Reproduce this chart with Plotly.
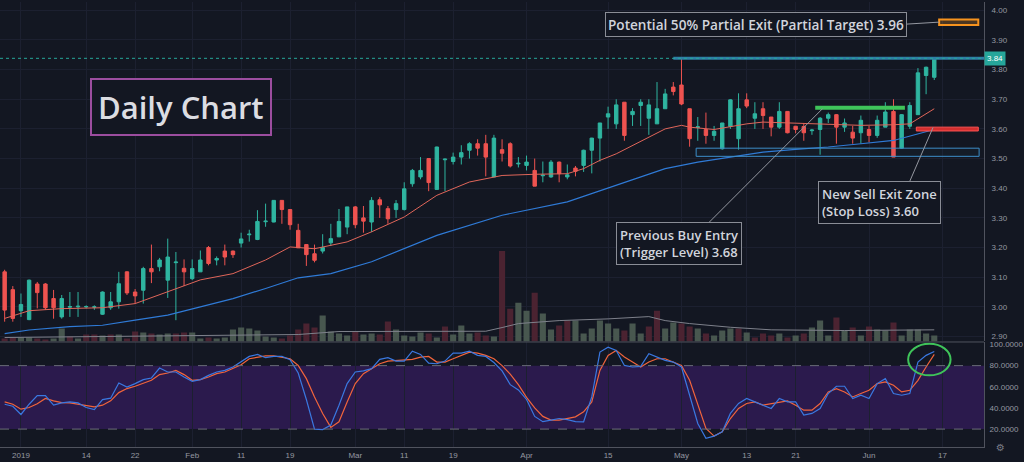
import numpy as np
import pandas as pd
import plotly.graph_objects as go

# ASX trading days on screen (Dec 28 2018 .. Jun 14 2019) plus the empty week on the right
holidays = ["2019-01-01", "2019-01-28", "2019-04-19", "2019-04-22", "2019-04-25", "2019-06-10"]
days = pd.bdate_range("2018-12-28", "2019-06-21")
days = days[~days.isin(pd.to_datetime(holidays))]

tick_dates = ["2019-01-02", "2019-01-14", "2019-01-22", "2019-02-01", "2019-02-11", "2019-02-19",
              "2019-03-01", "2019-03-11", "2019-03-19", "2019-04-01", "2019-04-15", "2019-05-01",
              "2019-05-13", "2019-05-21", "2019-06-03", "2019-06-17"]
tick_text = ["2019", "14", "22", "Feb", "11", "19", "Mar", "11", "19", "Apr", "15", "May",
             "13", "21", "Jun", "17"]

opens = [3.118, 3.058, 2.987, 2.957, 3.077, 3.077, 3.028, 2.966, 2.999, 3.000,
         3.000, 2.999, 2.975, 2.997, 3.017, 3.118, 3.050, 3.056, 3.129, 3.135,
         3.090, 3.149, 3.130, 3.095, 3.118, 3.200, 3.158, 3.188, 3.188, 3.215,
         3.243, 3.227, 3.287, 3.286, 3.359, 3.328, 3.258, 3.210, 3.179, 3.188,
         3.216, 3.236, 3.269, 3.337, 3.300, 3.286, 3.361, 3.331, 3.328, 3.328,
         3.415, 3.438, 3.500, 3.396, 3.496, 3.490, 3.505, 3.528, 3.550, 3.550,
         3.438, 3.530, 3.550, 3.482, 3.477, 3.460, 3.442, 3.438, 3.488, 3.438,
         3.468, 3.477, 3.528, 3.569, 3.640, 3.617, 3.690, 3.648, 3.679, 3.636,
         3.617, 3.668, 3.741, 3.748, 3.668, 3.605, 3.598, 3.578, 3.533, 3.608,
         3.567, 3.698, 3.636, 3.668, 3.640, 3.606, 3.659, 3.609, 3.608, 3.594,
         3.598, 3.636, 3.648, 3.606, 3.589, 3.587, 3.598, 3.578, 3.606, 3.659,
         3.535, 3.609, 3.648, 3.780, 3.774]
highs = [3.125, 3.070, 3.045, 3.092, 3.084, 3.080, 3.057, 3.040, 3.050, 3.050,
         3.005, 3.005, 3.052, 3.050, 3.118, 3.120, 3.060, 3.135, 3.210, 3.165,
         3.230, 3.185, 3.160, 3.160, 3.190, 3.205, 3.170, 3.210, 3.190, 3.250,
         3.260, 3.326, 3.348, 3.360, 3.360, 3.330, 3.280, 3.210, 3.210, 3.245,
         3.280, 3.330, 3.337, 3.340, 3.340, 3.370, 3.370, 3.340, 3.360, 3.420,
         3.465, 3.505, 3.500, 3.540, 3.500, 3.520, 3.545, 3.555, 3.565, 3.580,
         3.580, 3.565, 3.555, 3.505, 3.510, 3.500, 3.490, 3.495, 3.490, 3.480,
         3.475, 3.530, 3.570, 3.620, 3.675, 3.700, 3.690, 3.670, 3.700, 3.700,
         3.758, 3.735, 3.758, 3.840, 3.668, 3.640, 3.655, 3.610, 3.620, 3.700,
         3.720, 3.720, 3.690, 3.690, 3.640, 3.690, 3.660, 3.610, 3.620, 3.600,
         3.640, 3.655, 3.650, 3.635, 3.610, 3.645, 3.610, 3.645, 3.690, 3.700,
         3.650, 3.690, 3.805, 3.810, 3.840]
lows = [2.950, 2.950, 2.966, 2.955, 2.995, 2.990, 2.960, 2.960, 2.966, 2.966,
        2.995, 2.990, 2.973, 2.990, 2.994, 3.040, 3.011, 3.011, 3.080, 3.120,
        3.030, 2.955, 3.070, 3.090, 3.118, 3.140, 3.140, 3.140, 3.165, 3.200,
        3.220, 3.225, 3.270, 3.285, 3.280, 3.260, 3.199, 3.138, 3.150, 3.180,
        3.205, 3.236, 3.245, 3.265, 3.250, 3.252, 3.300, 3.280, 3.300, 3.325,
        3.405, 3.430, 3.390, 3.395, 3.390, 3.480, 3.480, 3.500, 3.510, 3.440,
        3.438, 3.490, 3.470, 3.470, 3.460, 3.407, 3.420, 3.435, 3.420, 3.430,
        3.440, 3.455, 3.450, 3.490, 3.600, 3.600, 3.560, 3.610, 3.610, 3.580,
        3.617, 3.668, 3.713, 3.680, 3.540, 3.560, 3.550, 3.560, 3.530, 3.600,
        3.530, 3.670, 3.600, 3.600, 3.575, 3.600, 3.585, 3.585, 3.560, 3.580,
        3.513, 3.620, 3.550, 3.590, 3.550, 3.550, 3.555, 3.570, 3.606, 3.505,
        3.533, 3.600, 3.648, 3.717, 3.765]
closes = [2.989, 2.961, 3.008, 3.090, 3.048, 2.997, 2.997, 3.028, 3.001, 3.002,
          3.001, 3.000, 3.050, 3.017, 3.078, 3.047, 3.037, 3.129, 3.118, 3.158,
          3.168, 3.151, 3.118, 3.129, 3.158, 3.146, 3.163, 3.168, 3.176, 3.229,
          3.245, 3.288, 3.289, 3.359, 3.328, 3.277, 3.199, 3.176, 3.157, 3.200,
          3.230, 3.288, 3.337, 3.277, 3.289, 3.359, 3.344, 3.297, 3.348, 3.398,
          3.460, 3.460, 3.419, 3.539, 3.498, 3.505, 3.520, 3.550, 3.535, 3.505,
          3.569, 3.518, 3.475, 3.484, 3.488, 3.407, 3.444, 3.488, 3.449, 3.445,
          3.457, 3.528, 3.569, 3.620, 3.651, 3.681, 3.578, 3.659, 3.690, 3.681,
          3.668, 3.718, 3.726, 3.684, 3.567, 3.607, 3.578, 3.592, 3.620, 3.698,
          3.668, 3.677, 3.651, 3.645, 3.606, 3.659, 3.587, 3.598, 3.587, 3.596,
          3.636, 3.648, 3.606, 3.620, 3.569, 3.629, 3.578, 3.629, 3.657, 3.505,
          3.648, 3.679, 3.789, 3.808, 3.840]
volume = [3, 4, 4, 4, 3, 2, 3, 13, 5, 3,
          7, 7, 6, 7, 7, 3, 10, 9, 8, 7,
          8, 8, 9, 9, 3, 4, 3, 4, 12, 14,
          13, 11, 5, 4, 3, 6, 12, 18, 14, 26,
          10, 8, 6, 10, 7, 8, 7, 20, 12, 6,
          5, 9, 8, 4, 15, 7, 16, 8, 9, 6,
          5, 91, 33, 39, 31, 49, 28, 12, 16, 21,
          21, 8, 13, 21, 18, 13, 11, 18, 8, 15,
          31, 13, 19, 18, 15, 13, 8, 6, 11, 13,
          13, 9, 4, 8, 6, 8, 4, 6, 8, 14,
          21, 6, 24, 11, 14, 6, 15, 12, 11, 19,
          6, 12, 12, 8, 6]

# moving averages (bar index, value)
ma_fast_idx = [0, 3, 7, 12, 16, 20, 24, 28, 32, 35, 38, 42, 45, 49, 53, 57, 61, 65, 69, 71,
               73, 75, 77, 79, 81, 83, 84, 87, 91, 93, 97, 101, 105, 109, 111, 112, 114]
ma_fast = [2.961, 2.987, 2.994, 2.997, 3.011, 3.051, 3.091, 3.112, 3.158, 3.202, 3.196, 3.219,
           3.253, 3.303, 3.376, 3.421, 3.443, 3.447, 3.449, 3.466, 3.494, 3.516, 3.544, 3.572,
           3.600, 3.612, 3.606, 3.598, 3.617, 3.623, 3.620, 3.617, 3.612, 3.614, 3.617, 3.634, 3.668]
ma_slow_idx = [0, 3, 8, 12, 16, 20, 24, 28, 32, 36, 40, 42, 45, 53, 61, 69, 75, 81, 85, 89,
               93, 97, 101, 105, 109, 114]
ma_slow = [2.910, 2.922, 2.933, 2.938, 2.955, 2.972, 3.000, 3.028, 3.062, 3.098, 3.112, 3.129,
           3.152, 3.241, 3.309, 3.354, 3.410, 3.466, 3.488, 3.505, 3.522, 3.531, 3.539, 3.550,
           3.561, 3.598]
vol_ma_idx = [0, 12, 24, 36, 41, 59, 61, 63, 68, 74, 79, 81, 84, 89, 94, 103, 114]
vol_ma = [4, 5, 6, 7, 10, 10.3, 14, 18, 21, 22.7, 25, 21, 18, 14.3, 11.7, 11, 11.7]

stoch_k = [43.5, 41.6, 33.8, 43.5, 51.7, 51.7, 42.6, 44.8, 45.7, 44.8,
           40.4, 38.5, 47.9, 49.2, 63.6, 59.8, 63.0, 66.8, 68.3, 77.7,
           74.0, 74.0, 69.3, 65.2, 66.8, 70.8, 74.0, 75.5, 78.7, 84.0,
           88.7, 90.6, 87.5, 88.7, 88.7, 85.6, 73.0, 48.0, 20.0, 19.5,
           23.8, 42.6, 63.0, 74.0, 75.0, 77.1, 85.9, 87.5, 84.3, 84.3,
           93.7, 90.6, 82.4, 81.8, 84.3, 91.9, 91.9, 93.7, 89.7, 88.7,
           83.0, 75.0, 62.0, 57.0, 48.0, 32.0, 27.0, 28.5, 30.0, 29.0,
           27.0, 26.9, 50.4, 92.8, 97.5, 94.4, 80.2, 78.7, 79.3, 91.2,
           88.1, 85.0, 83.4, 78.7, 52.0, 25.3, 11.2, 13.4, 17.5, 34.8,
           44.2, 48.9, 45.7, 42.6, 39.5, 48.9, 45.7, 45.7, 33.2, 34.8,
           39.5, 53.6, 60.5, 60.5, 48.9, 52.0, 48.9, 63.0, 67.7, 53.6,
           52.0, 53.6, 83.4, 89.7, 93.4]
stoch_d = [45.7, 43.5, 38.8, 40.4, 44.0, 48.9, 46.7, 45.1, 44.8, 43.5,
           42.0, 41.0, 42.6, 46.7, 54.5, 58.3, 60.5, 63.0, 66.1, 71.5,
           73.0, 75.5, 71.5, 66.1, 66.8, 69.3, 72.4, 74.0, 77.1, 80.9,
           86.5, 88.1, 89.3, 89.3, 88.1, 86.5, 80.2, 67.7, 50.4, 34.8,
           21.6, 26.9, 45.7, 63.0, 72.4, 77.1, 81.8, 84.3, 84.9, 84.9,
           86.0, 88.1, 88.7, 83.4, 83.4, 86.5, 89.7, 92.8, 91.9, 89.7,
           86.5, 80.0, 72.0, 62.0, 50.0, 40.0, 32.0, 28.5, 28.5, 30.0,
           31.6, 36.3, 45.7, 75.5, 89.7, 94.4, 88.1, 83.4, 78.7, 83.4,
           86.5, 86.5, 83.4, 80.2, 66.1, 44.2, 20.6, 13.4, 17.5, 30.0,
           39.5, 44.2, 45.7, 42.6, 44.2, 45.7, 46.7, 42.6, 37.9, 37.9,
           44.2, 55.1, 58.3, 55.1, 50.4, 53.6, 56.7, 63.0, 64.6, 61.4,
           55.1, 56.7, 66.1, 78.7, 90.6]

BG = "#131722"
GRID = "#1c2030"
AX = "#50535e"
TXT = "#9598a1"
UP = "#2fb5a0"
DN = "#ef5350"
BOXTXT = "#d1d4dc"

x = np.arange(len(closes))
tick_pos = [days.get_loc(pd.Timestamp(d)) for d in tick_dates]

vol_colors = []
for i in range(len(closes)):
    prev = closes[i - 1] if i > 0 else opens[0]
    vol_colors.append("#48574f" if closes[i] >= prev else "#4b2331")

fig = go.Figure()

# volume (base axis so it sits under the candles)
fig.add_trace(go.Bar(x=x, y=volume, marker=dict(color=vol_colors, line=dict(width=0)),
                     xaxis="x", yaxis="y", hoverinfo="skip"))
fig.add_trace(go.Scatter(x=vol_ma_idx, y=vol_ma, mode="lines", line=dict(color="#7e818b", width=1),
                         xaxis="x", yaxis="y", hoverinfo="skip"))

# moving averages
fig.add_trace(go.Scatter(x=ma_slow_idx, y=ma_slow, mode="lines", line=dict(color="#2f7ad6", width=1.2),
                         xaxis="x", yaxis="y2", hoverinfo="skip"))
fig.add_trace(go.Scatter(x=ma_fast_idx, y=ma_fast, mode="lines", line=dict(color="#e0665a", width=1),
                         xaxis="x", yaxis="y2", hoverinfo="skip"))

# candles
fig.add_trace(go.Candlestick(
    x=x, open=opens, high=highs, low=lows, close=closes,
    increasing=dict(line=dict(color=UP, width=1), fillcolor=UP),
    decreasing=dict(line=dict(color=DN, width=1), fillcolor=DN),
    whiskerwidth=0, xaxis="x", yaxis="y2", hoverinfo="skip"))

# stochastic
fig.add_trace(go.Scatter(x=x, y=stoch_d, mode="lines", line=dict(color="#f0643c", width=1.2),
                         xaxis="x", yaxis="y3", hoverinfo="skip"))
fig.add_trace(go.Scatter(x=x, y=stoch_k, mode="lines", line=dict(color="#3a78e0", width=1.2),
                         xaxis="x", yaxis="y3", hoverinfo="skip"))

tickfont = dict(family="Liberation Sans", size=8, color=TXT)

fig.update_layout(
    width=1024, height=462,
    margin=dict(l=0, r=31, t=0, b=15),
    paper_bgcolor=BG, plot_bgcolor=BG,
    showlegend=False, boxgap=0.4, bargap=0.25,
    font=dict(family="Open Sans", color=BOXTXT),
    xaxis=dict(domain=[0, 1], range=[-0.57, 120.1], anchor="y3",
               tickmode="array", tickvals=tick_pos, ticktext=tick_text,
               showgrid=True, gridcolor=GRID, zeroline=False, ticks="",
               showline=True, linecolor=AX, tickfont=tickfont,
               rangeslider=dict(visible=False)),
    yaxis=dict(domain=[0.2371, 1], range=[0, max(volume) * 341 / 91], visible=False),
    yaxis2=dict(overlaying="y", side="right", anchor="x", range=[2.8832, 4.0279],
                tickmode="array", tickvals=[2.9 + 0.1 * k for k in range(12)], tickformat=".2f",
                showgrid=True, gridcolor=GRID, zeroline=False, ticks="",
                showline=True, linecolor=AX, tickfont=tickfont, ticklabelstandoff=5),
    yaxis3=dict(domain=[0, 0.2349], range=[3.06, 101.9], side="right", anchor="x",
                tickmode="array", tickvals=[20, 40, 60, 80, 100], tickformat=".4f",
                showgrid=False, zeroline=False, ticks="",
                showline=True, linecolor=AX, tickfont=tickfont, ticklabelstandoff=3),
)

shapes = [
    # stochastic band and its 80 / 20 levels
    dict(type="rect", xref="paper", x0=0, x1=1, yref="y3", y0=20, y1=80,
         fillcolor="#2b1a4d", line=dict(width=0), layer="below"),
    dict(type="line", xref="paper", x0=0, x1=1, yref="y3", y0=80, y1=80,
         line=dict(color="#6a6d78", width=1, dash="dash")),
    dict(type="line", xref="paper", x0=0, x1=1, yref="y3", y0=20, y1=20,
         line=dict(color="#6a6d78", width=1, dash="dash")),
    # pane separator
    dict(type="line", xref="paper", x0=0, x1=1, yref="paper", y0=0.236, y1=0.236,
         line=dict(color=AX, width=1)),
    # 3.84 resistance ray and last price line
    dict(type="line", xref="x", x0=82.0, x1=120.1, yref="y2", y0=3.838, y1=3.838,
         line=dict(color="#2e7fa6", width=3)),
    dict(type="line", xref="paper", x0=0, x1=1, yref="y2", y0=3.838, y1=3.838,
         line=dict(color="#26a69a", width=1, dash="dot")),
    # partial target box
    dict(type="rect", xref="x", x0=114.6, x1=119.4, yref="y2", y0=3.950, y1=3.969,
         line=dict(color="#f7931e", width=2), fillcolor="rgba(247,147,30,0.25)"),
    # support zone
    dict(type="rect", xref="x", x0=84.8, x1=119.5, yref="y2", y0=3.5075, y1=3.535,
         line=dict(color="#3d8ec9", width=1), fillcolor="rgba(61,142,201,0.04)"),
    # trigger level
    dict(type="line", xref="x", x0=99.4, x1=110.4, yref="y2", y0=3.671, y1=3.671,
         line=dict(color="#3fc45a", width=4)),
    # stop loss zone
    dict(type="rect", xref="x", x0=111.8, x1=119.4, yref="y2", y0=3.593, y1=3.606,
         line=dict(color="#ff5252", width=1), fillcolor="#d32f2f"),
    # connector lines
    dict(type="line", xref="x", x0=109.8, x1=114.6, yref="y2", y0=3.952, y1=3.960,
         line=dict(color="#9598a1", width=1)),
    dict(type="line", xref="x", x0=86.3, x1=100.3, yref="y2", y0=3.2826, y1=3.6683,
         line=dict(color="#9598a1", width=1)),
    dict(type="line", xref="x", x0=111.0, x1=113.85, yref="y2", y0=3.4236, y1=3.6048,
         line=dict(color="#9598a1", width=1)),
    # circle on the stochastic cross
    dict(type="circle", xref="x", x0=110.8, x1=116.0, yref="y3", y0=70.8, y1=100.7,
         line=dict(color="#3fc45a", width=2)),
]
fig.update_layout(shapes=shapes)

box_font = dict(family="Open Sans", size=13, color=BOXTXT, weight=600)
annotations = [
    dict(text="Daily Chart", xref="x", yref="y2", x=21.66, y=3.6754, showarrow=False,
         font=dict(family="Open Sans", size=31, color="#dcdde2", weight=600),
         bordercolor="#9c4d9f", borderwidth=2, borderpad=6, bgcolor=BG),
    dict(text="Potential 50% Partial Exit (Partial Target) 3.96", xref="x", yref="y2",
         x=92.2, y=3.952, showarrow=False,
         font=dict(family="Open Sans", size=13.6, color=BOXTXT, weight=600),
         bordercolor="#8a8d96", borderwidth=1, borderpad=2, bgcolor=BG),
    dict(text="Previous Buy Entry<br>(Trigger Level) 3.68", xref="x", yref="y2",
         x=82.66, y=3.2138, showarrow=False, align="left", font=box_font,
         bordercolor="#8a8d96", borderwidth=1, borderpad=3, bgcolor=BG),
    dict(text="New Sell Exit Zone<br>(Stop Loss) 3.60", xref="x", yref="y2",
         x=107.3, y=3.3531, showarrow=False, align="left", font=box_font,
         bordercolor="#8a8d96", borderwidth=1, borderpad=3, bgcolor=BG),
    # last price tag on the axis
    dict(text="3.84", xref="paper", yref="y2", x=1, y=3.838, xanchor="left", showarrow=False,
         font=dict(family="Liberation Sans", size=8, color="#ffffff"),
         bgcolor="#26a69a", borderpad=2),
    dict(text="⚙", xref="paper", yref="paper", x=1, y=-0.018, xanchor="left", xshift=10,
         showarrow=False, font=dict(family="DejaVu Sans", size=10, color="#787b86")),
]
fig.update_layout(annotations=annotations)

fig.write_html("out.html", config={"displayModeBar": False},
               post_script="document.body.style.margin='0';document.body.style.overflow='hidden';")
